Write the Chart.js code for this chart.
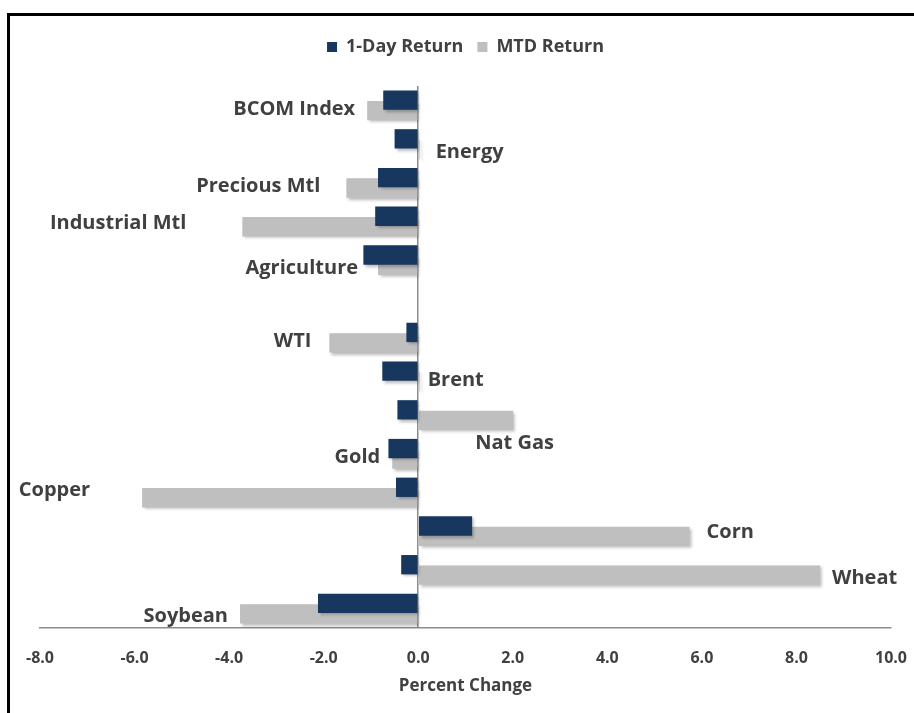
<!DOCTYPE html>
<html>
<head>
<meta charset="utf-8">
<title>Commodity returns</title>
<script src="https://cdn.jsdelivr.net/npm/chart.js@4.4.1/dist/chart.umd.min.js"></script>
<style>
  html, body { margin: 0; padding: 0; background: #fff; overflow: hidden; }
  #wrap { position: relative; width: 914px; height: 713px; overflow: hidden; }
  #grafico { position: absolute; left: 0; top: 0; }
  #marco {
    position: absolute; left: 7px; top: 13px; width: 2000px; height: 2000px;
    border-left: 3px solid #000; border-top: 3px solid #000; pointer-events: none;
  }
</style>
</head>
<body>
<div id="wrap">
  <canvas id="grafico" width="914" height="713"></canvas>
  <div id="marco"></div>
</div>
<script>
/* ------------------ datos ------------------ */
const categorias = ["BCOM Index", "Energy", "Precious Mtl", "Industrial Mtl", "Agriculture", "",
  "WTI", "Brent", "Nat Gas", "Gold", "Copper", "Corn", "Wheat", "Soybean"];
const retorno1D  = [-0.74, -0.50, -0.85, -0.91, -1.16, null, -0.25, -0.76, -0.44, -0.63, -0.47, 1.14, -0.36, -2.12];
const retornoMTD = [-1.08, 0.03, -1.52, -3.72, -0.85, null, -1.88, 0.03, 2.01, -0.55, -5.84, 5.74, 8.50, -3.77];
const ticksX = [-8, -6, -4, -2, 0, 2, 4, 6, 8, 10];

const TXT = "#404040";
const FUENTE = "'Liberation Sans Narrow', 'Open Sans', sans-serif";

// ajuste manual de etiquetas (dx, dy en px) como en el original
const ajusteEtiqueta = {
  "Precious Mtl": [-14, 0],
  "Industrial Mtl": [-44, -2],
  "Agriculture": [-8, 4],
  "WTI": [-6, 0],
  "Energy": [4, 4],
  "Brent": [-4, 0],
  "Nat Gas": [-50, 24],
  "Copper": [-40, -6],
  "Corn": [5, -3],
  "Wheat": [0, 4],
  "Soybean": [0, 4]
};

/* ------------------ plugins ------------------ */
const sombraBarras = {
  id: "sombraBarras",
  beforeDatasetsDraw(chart) {
    const ctx = chart.ctx;
    ctx.save();
    ctx.shadowColor = "rgba(0,0,0,0.28)";
    ctx.shadowBlur = 3;
    ctx.shadowOffsetX = 2;
    ctx.shadowOffsetY = 2;
  },
  afterDatasetsDraw(chart) {
    chart.ctx.restore();
  }
};

const etiquetasCat = {
  id: "etiquetasCat",
  afterDraw(chart) {
    const ctx = chart.ctx;
    const metaMTD = chart.getDatasetMeta(1);
    const yScale = chart.scales.y;
    ctx.save();
    ctx.font = "bold 20px " + FUENTE;
    ctx.fillStyle = TXT;
    ctx.textBaseline = "middle";
    categorias.forEach((cat, i) => {
      if (!cat) return;
      const bar = metaMTD.data[i];
      const v = retornoMTD[i];
      const d = ajusteEtiqueta[cat] || [0, 0];
      const y = yScale.getPixelForValue(i) + 4 + d[1];
      if (v < 0) {
        ctx.textAlign = "right";
        ctx.fillText(cat, bar.x - 12 + d[0], y);
      } else {
        ctx.textAlign = "left";
        ctx.fillText(cat, Math.max(bar.x, bar.base) + 12 + d[0], y);
      }
    });
    ctx.restore();
  }
};

/* ------------------ grafico ------------------ */
const ctx = document.getElementById("grafico").getContext("2d");
new Chart(ctx, {
  type: "bar",
  data: {
    labels: categorias,
    datasets: [
      { label: "1-Day Return", data: retorno1D, backgroundColor: "#17375E" },
      { label: "MTD Return", data: retornoMTD, backgroundColor: "#BFBFBF" }
    ]
  },
  options: {
    indexAxis: "y",
    responsive: false,
    animation: false,
    categoryPercentage: 0.54,
    barPercentage: 1.85,
    layout: { padding: { left: 40, right: 23, top: 24, bottom: 0 } },
    plugins: {
      legend: {
        position: "top",
        labels: {
          boxWidth: 10, boxHeight: 10, padding: 14, color: TXT,
          font: { family: FUENTE, size: 18, weight: "bold" }
        }
      },
      tooltip: { enabled: false }
    },
    scales: {
      x: {
        min: -8, max: 10,
        afterBuildTicks(axis) { axis.ticks = ticksX.map(v => ({ value: v })); },
        afterFit(axis) { axis.height = 85; },
        ticks: {
          color: TXT, padding: 3,
          font: { family: FUENTE, size: 16, weight: "bold" },
          callback: v => v.toFixed(1)
        },
        grid: {
          drawTicks: true, tickLength: 18, tickColor: "transparent",
          color: c => (c.tick && c.tick.value === 0 ? "#8C8C8C" : "transparent"),
          lineWidth: 1.5
        },
        border: { display: true, color: "#8C8C8C", width: 1.5 },
        title: {
          display: true, text: "Percent Change", color: TXT,
          font: { family: FUENTE, size: 17, weight: "bold" },
          padding: { top: 4, bottom: 17 }
        }
      },
      // espacio vacio entre leyenda y area de barras
      x2: {
        type: "linear", position: "top",
        ticks: { display: false },
        grid: { display: false, drawTicks: false },
        border: { display: false },
        afterFit(axis) { axis.height = 20; }
      },
      y: { display: false, grid: { display: false } }
    }
  },
  plugins: [sombraBarras, etiquetasCat]
});
</script>
</body>
</html>
